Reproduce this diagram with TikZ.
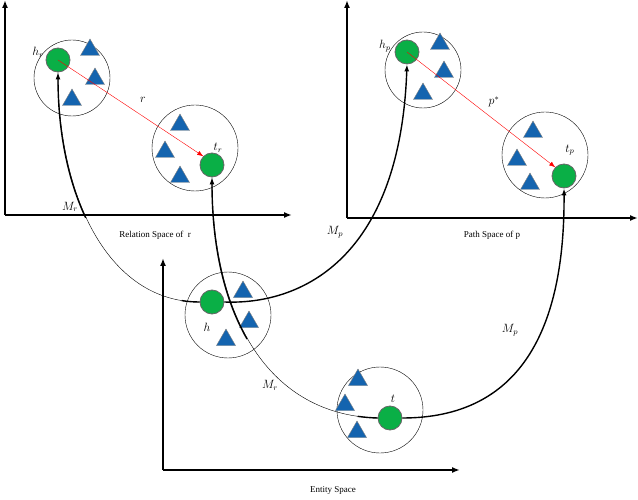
\documentclass[tikz,border=0pt]{standalone}
\usepackage{fontspec}
\setmainfont{Liberation Serif}
\usetikzlibrary{arrows.meta,shapes.geometric}
\definecolor{triblue}{RGB}{20,100,175}
\definecolor{entgreen}{RGB}{10,175,70}
\begin{document}
\begin{tikzpicture}[x=1pt,y=-1pt,
  axis/.style={line width=1.6pt,-{Latex[length=8pt,width=6pt]}},
  grp/.style={circle,draw=black,thin,minimum size=80pt,inner sep=0},
  ent/.style={circle,fill=entgreen,draw=gray!80!black,line width=0.8pt,minimum size=24pt,inner sep=0},
  tri/.style={regular polygon,regular polygon sides=3,fill=triblue,draw=gray,minimum size=22pt,inner sep=0},
  rel/.style={red,thin,-{Latex[length=6pt]}},
  map/.style={line width=1.4pt,-{Latex[length=7pt,width=5pt]}},
  thick stub/.style={line width=1.4pt},
  thinmap/.style={thin},
  lbl/.style={font=\itshape\large,inner sep=1pt},
  spacecap/.style={font=\small}]
\useasboundingbox (0,0) rectangle (638,500);
% axes
\coordinate (o1) at (5,215); \coordinate (y1) at (5,0); \coordinate (x1) at (292,215);
\coordinate (o2) at (347,218); \coordinate (y2) at (347,0); \coordinate (x2) at (638,218);
\coordinate (o3) at (163,470); \coordinate (y3) at (163,258); \coordinate (x3) at (460,470);
\draw[axis] (o1) -- (y1); \draw[axis] (o1) -- (x1);
\draw[axis] (o2) -- (y2); \draw[axis] (o2) -- (x2);
\draw[axis] (o3) -- (y3); \draw[axis] (o3) -- (x3);
\node[spacecap] (c1) at (155,235) {Relation Space of \ r};
\node[spacecap] (c2) at (492,235) {Path Space of p};
\node[spacecap] (c3) at (333,490) {Entity Space};
% groups
\node[grp,minimum size=76pt] (g1) at (72,78) {};
\node[grp,minimum size=86pt] (g2) at (195,148) {};
\node[grp,minimum size=76pt] (g3) at (423,70) {};
\node[grp,minimum size=86pt] (g4) at (545,155) {};
\node[grp,minimum size=86pt] (g5) at (228,315) {};
\node[grp,minimum size=86pt] (g6) at (380,410) {};
% triangles
\foreach \n/\p in {a1/{(90,50)},a2/{(95,79)},a3/{(72,100)},
  b1/{(180,125)},b2/{(165,152)},b3/{(180,177)},
  c1/{(440,44)},c2/{(444,72)},c3/{(423,94)},
  d1/{(533,132)},d2/{(517,160)},d3/{(530,184)},
  e1/{(243,292)},e2/{(249,322)},e3/{(226,340)},
  f1/{(358,380)},f2/{(345,405)},f3/{(357,432)}}
  \node[tri] (\n) at \p {};
% entities
\node[ent] (hr) at (58,60) {};
\node[ent] (tr) at (212,165) {};
\node[ent] (hp) at (407,52) {};
\node[ent] (tp) at (564,176) {};
\node[ent] (h) at (212,302) {};
\node[ent] (t) at (390,418) {};
% labels
\node[lbl] (lhr) at (38,52) {$h_r$};
\node[lbl] (lr) at (143,100) {$r$};
\node[lbl] (ltr) at (218,148) {$t_r$};
\node[lbl] (lhp) at (385,46) {$h_p$};
\node[lbl] (lp) at (494,102) {$p^*$};
\node[lbl] (ltp) at (570,150) {$t_p$};
\node[lbl] (lh) at (207,327) {$h$};
\node[lbl] (lt) at (393,399) {$t$};
\node[lbl] (m1) at (70,207) {$M_r$};
\node[lbl] (m2) at (335,232) {$M_p$};
\node[lbl] (m3) at (510,330) {$M_p$};
\node[lbl] (m4) at (270,385) {$M_r$};
% relations
\draw[rel] (hr.center) -- (tr.north west);
\draw[rel] (hp.center) -- (tp.north west);
% mappings: thin curve, thick overlay near the ends
\draw[thinmap] (h.west) .. controls (110,302) and (58,200) .. (hr.south);
\draw[thick stub,dash pattern=on 18pt off 1000pt] (h.west) .. controls (110,302) and (58,200) .. (hr.south);
\draw[map,dash pattern=on 0pt off 150pt on 400pt] (h.west) .. controls (110,302) and (58,200) .. (hr.south);
\draw[map] (h.east) .. controls (300,305) and (400,260) .. (hp.south);
\draw[thinmap] (t.west) .. controls (270,415) and (212,320) .. (tr.south);
\draw[thick stub,dash pattern=on 20pt off 1000pt] (t.west) .. controls (270,415) and (212,320) .. (tr.south);
\draw[map,dash pattern=on 0pt off 160pt on 400pt] (t.west) .. controls (270,415) and (212,320) .. (tr.south);
\draw[map] (t.east) .. controls (520,418) and (565,330) .. (tp.south);
\end{tikzpicture}
\end{document}
